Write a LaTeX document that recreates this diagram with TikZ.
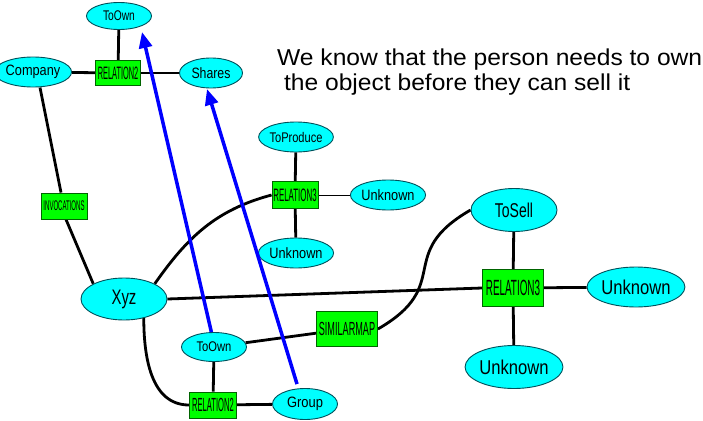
\documentclass[tikz,border=0pt]{standalone}
\usepackage{fontspec}
\setmainfont{Liberation Sans}
\usetikzlibrary{shapes.geometric,arrows.meta,backgrounds}
\definecolor{ecyan}{RGB}{0,255,255}
\definecolor{eborder}{RGB}{0,80,90}
\definecolor{rgreen}{RGB}{0,255,0}
\definecolor{rborder}{RGB}{0,100,0}
\definecolor{arrblue}{RGB}{0,0,255}
\newcommand{\lbl}[3]{\scalebox{#1}[1]{\fontsize{#2}{#2}\selectfont #3}}
\tikzset{
  ent/.style={ellipse,draw=eborder,fill=ecyan,line width=0.9pt,inner sep=0pt},
  rel/.style={rectangle,draw=rborder,fill=rgreen,line width=0.9pt,inner sep=0pt},
  link/.style={line width=2.8pt,black},
  thinlink/.style={line width=1pt,black},
  bluearr/.style={line width=3.5pt,arrblue,-{Triangle[length=16pt,width=13pt]}}
}
\begin{document}
\begin{tikzpicture}[x=1pt,y=1pt]
\useasboundingbox (0,0) rectangle (703,-420);
\node[ent,minimum width=65,minimum height=27] (toownA) at (119,-16) {\lbl{0.73}{14}{ToOwn}};
\node[ent,minimum width=65,minimum height=30] (company) at (33,-72) {\lbl{0.85}{15}{Company}};
\node[rel,minimum width=45,minimum height=25] (relA) at (118,-73) {\lbl{0.41}{18}{RELATION2}};
\node[ent,minimum width=63,minimum height=30] (shares) at (211,-73) {\lbl{0.82}{15}{Shares}};
\node[rel,minimum width=46,minimum height=26] (invoc) at (64,-206) {\lbl{0.43}{14}{INVOCATIONS}};
\node[ent,minimum width=86,minimum height=42] (xyz) at (124,-299) {\lbl{0.71}{21}{Xyz}};
\node[ent,minimum width=65,minimum height=29] (toownB) at (214,-347) {\lbl{0.8}{14}{ToOwn}};
\node[rel,minimum width=47,minimum height=26] (relB) at (213,-405) {\lbl{0.4}{19}{RELATION2}};
\node[ent,minimum width=65,minimum height=31] (group) at (305,-404) {\lbl{0.86}{15}{Group}};
\node[rel,minimum width=61,minimum height=35] (simmap) at (347,-329) {\lbl{0.48}{19}{SIMILARMAP}};
\node[ent,minimum width=66,minimum height=30] (toproduce) at (296,-137) {\lbl{0.79}{14}{ToProduce}};
\node[rel,minimum width=46,minimum height=27] (relC) at (295,-195) {\lbl{0.44}{18}{RELATION3}};
\node[ent,minimum width=66,minimum height=30] (unkA) at (388,-195) {\lbl{0.85}{15}{Unknown}};
\node[ent,minimum width=66,minimum height=30] (unkB) at (296,-253) {\lbl{0.85}{15}{Unknown}};
\node[ent,minimum width=86,minimum height=43] (tosell) at (514,-210) {\lbl{0.7}{20}{ToSell}};
\node[rel,minimum width=61,minimum height=37] (relD) at (513,-288) {\lbl{0.45}{22}{RELATION3}};
\node[ent,minimum width=86,minimum height=40] (unkC) at (636,-287) {\lbl{0.83}{20}{Unknown}};
\node[ent,minimum width=86,minimum height=43] (unkD) at (514,-367) {\lbl{0.83}{20}{Unknown}};
% edges behind the nodes
\begin{pgfonlayer}{background}
\draw[link] (toownA) -- (relA);
\draw[link] (company) -- (relA);
\draw[link] (relA) -- (shares);
\draw[link] ([xshift=7pt]company.south) -- ([xshift=-3pt]invoc.north);
\draw[link] ([xshift=2pt]invoc.south) -- (xyz.north west);
\draw[link] (xyz.north east) to[out=55,in=195] (relC.west);
\draw[link] (relC) -- (toproduce);
\draw[thinlink] (relC) -- (unkA);
\draw[link] (relC) -- (unkB);
\draw[link] (xyz.east) -- (relD.west);
\draw[link] (xyz.-44) to[out=-90,in=180] (relB.west);
\draw[link] (toownB) -- (relB);
\draw[link] (relB) -- (group);
\draw[link] (toownB) -- (simmap);
\draw[link] (simmap.east) to[out=30,in=210,looseness=1.5] (tosell.west);
\draw[link] (relD) -- (tosell);
\draw[link] (relD) -- (unkC);
\draw[link] (relD) -- (unkD);
\end{pgfonlayer}
% blue arrows
\coordinate (tipA) at (142,-32);
\coordinate (tipB) at (207,-89);
\draw[bluearr] (toownB.100) -- (tipA);
\draw[bluearr] ([xshift=-8pt,yshift=4pt]group.north) -- (tipB);
% note text
\node[anchor=base west,inner sep=0pt] (noteA) at (277,-65) {\lbl{1.07}{23}{We know that the person needs to own}};
\node[anchor=base west,inner sep=0pt] (noteB) at (277,-90) {\lbl{1.07}{23}{\ the object before they can sell it}};
\end{tikzpicture}
\end{document}
